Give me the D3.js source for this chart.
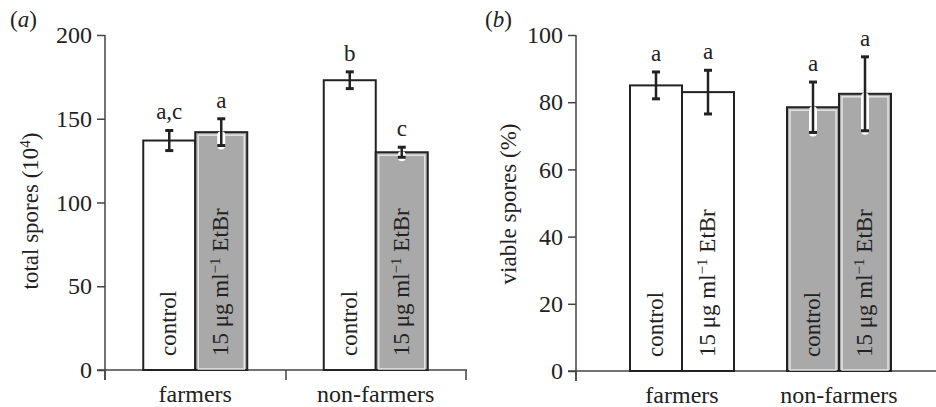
<!DOCTYPE html>
<html>
<head>
<meta charset="utf-8">
<script src="https://cdn.jsdelivr.net/npm/d3@7"></script>
<style>
  body { margin: 0; background: #fff; }
  svg text { font-family: "Liberation Serif", "Times New Roman", Times, serif; fill: #222; }
</style>
</head>
<body>
<svg width="936" height="407"></svg>
<script>
// data
const categories = ['farmers', 'non-farmers'];
const treatments = ['control', 'etbr'];

const totalMeans = [[137, 142], [173, 130]];
const totalErr = [[6, 8], [5, 3]];
const totalLetters = [['a,c', 'a'], ['b', 'c']];
const totalShaded = [[false, true], [false, true]];
const totalTicks = [0, 50, 100, 150, 200];

const viableMeans = [[85, 83], [78.5, 82.5]];
const viableErr = [[4, 6.5], [7.5, 11]];
const viableLetters = [['a', 'a'], ['a', 'a']];
const viableShaded = [[false, false], [true, true]];
const viableTicks = [0, 20, 40, 60, 80, 100];

let svg = d3.select('svg');
let barW = 52;
let fs = 23;
let serif = '"Liberation Serif", "Times New Roman", Times, serif';

function panel(opts) {
  let g = svg.append('g');
  let y = d3.scaleLinear().domain(opts.yDomain).range(opts.yRange);
  let x = opts.x;
  let xc = (c) => x(c) + x.bandwidth() / 2;
  let y0 = y(0);

  // y axis
  let yAxis = d3.axisLeft(y).tickValues(opts.ticks).tickSize(8).tickPadding(5).tickSizeOuter(0);
  let ya = g.append('g').attr('transform', `translate(${opts.axisX},0)`).call(yAxis)
    .attr('font-family', serif).attr('font-size', 24);
  ya.select('.domain').remove();
  ya.selectAll('line').attr('stroke', '#444').attr('stroke-width', 1.5);
  ya.selectAll('text').attr('fill', '#222');
  g.append('line')
    .attr('x1', opts.axisX).attr('x2', opts.axisX)
    .attr('y1', y(opts.yDomain[1])).attr('y2', y0 + 10)
    .attr('stroke', '#444').attr('stroke-width', 1.5);

  // x axis baseline and ticks
  g.append('line')
    .attr('x1', opts.axisX - 8).attr('x2', opts.xEnd)
    .attr('y1', y0).attr('y2', y0)
    .attr('stroke', '#444').attr('stroke-width', 1.5);
  g.selectAll('.xt').data(opts.xTicks).enter().append('line')
    .attr('x1', (d) => d).attr('x2', (d) => d)
    .attr('y1', y0).attr('y2', y0 + 10)
    .attr('stroke', '#444').attr('stroke-width', 1.5);
  g.selectAll('.xl').data(categories).enter().append('text')
    .attr('x', (d) => xc(d)).attr('y', y0 + 32)
    .attr('text-anchor', 'middle')
    .style('font-size', '24px')
    .text((d) => d);

  // bars
  let rows = [];
  categories.forEach((c, i) => {
    treatments.forEach((t, j) => {
      rows.push({
        cat: c, tr: t,
        v: opts.means[i][j], e: opts.err[i][j],
        letter: opts.letters[i][j], shaded: opts.shaded[i][j],
        x0: xc(c) + (j - 1) * barW,
      });
    });
  });

  let bars = g.selectAll('.bar').data(rows).enter().append('g');
  bars.append('rect')
    .attr('x', (d) => d.x0).attr('y', (d) => y(d.v))
    .attr('width', barW).attr('height', (d) => y0 - y(d.v))
    .attr('fill', (d) => (d.shaded ? '#a9a9a9' : '#fff'))
    .attr('stroke', '#222').attr('stroke-width', 2);
  bars.filter((d) => d.shaded).append('rect')
    .attr('x', (d) => d.x0 + 3).attr('y', (d) => y(d.v) + 3)
    .attr('width', barW - 6).attr('height', (d) => y0 - y(d.v) - 4)
    .attr('fill', 'none')
    .attr('stroke', '#e4e4e4').attr('stroke-width', 1.5);

  // error bars
  let cx = (d) => d.x0 + barW / 2;
  bars.filter((d) => d.shaded).append('line')
    .attr('x1', cx).attr('x2', cx)
    .attr('y1', (d) => y(d.v) + 3).attr('y2', (d) => y(d.v - d.e))
    .attr('stroke', '#fff').attr('stroke-width', 8).attr('stroke-linecap', 'round');
  bars.append('line')
    .attr('x1', cx).attr('x2', cx)
    .attr('y1', (d) => y(d.v + d.e)).attr('y2', (d) => y(d.v - d.e))
    .attr('stroke', '#222').attr('stroke-width', 2.5);
  ['plus', 'minus'].forEach((k) => {
    bars.append('line')
      .attr('x1', (d) => cx(d) - 4).attr('x2', (d) => cx(d) + 4)
      .attr('y1', (d) => y(k == 'plus' ? d.v + d.e : d.v - d.e))
      .attr('y2', (d) => y(k == 'plus' ? d.v + d.e : d.v - d.e))
      .attr('stroke', '#222').attr('stroke-width', 3);
  });

  // significance letters
  bars.append('text')
    .attr('x', cx).attr('y', (d) => y(d.v + d.e) - 11)
    .attr('text-anchor', 'middle')
    .style('font-size', fs + 'px')
    .text((d) => d.letter);

  // labels inside the bars
  let lab = bars.append('text')
    .attr('transform', (d) => `translate(${cx(d) + 7},${y0 - 14}) rotate(-90)`)
    .style('font-size', fs + 'px');
  lab.filter((d) => d.tr == 'control').text('control');
  let et = lab.filter((d) => d.tr == 'etbr');
  et.append('tspan').text('15 μg ml');
  et.append('tspan').attr('dy', -8).style('font-size', '15px').text('−1');
  et.append('tspan').attr('dy', 8).text(' EtBr');

  // y title
  let yt = g.append('text')
    .attr('transform', `translate(${opts.titleX},${opts.titleY}) rotate(-90)`)
    .attr('text-anchor', 'middle')
    .style('font-size', fs + 'px');
  opts.title(yt);

  // panel letter
  let pl = g.append('text').attr('x', opts.labelX).attr('y', 27).style('font-size', fs + 'px');
  pl.append('tspan').text('(');
  pl.append('tspan').style('font-style', 'italic').text(opts.panelLetter);
  pl.append('tspan').text(')');
}

panel({
  yDomain: [0, 200], yRange: [370, 35], ticks: totalTicks,
  x: d3.scaleBand().domain(categories).range([105, 466]),
  axisX: 105, xEnd: 467, xTicks: [105, 286, 466],
  means: totalMeans, err: totalErr, letters: totalLetters, shaded: totalShaded,
  titleX: 38, titleY: 211,
  title: (t) => {
    t.append('tspan').text('total spores (10');
    t.append('tspan').attr('dy', -8).style('font-size', '15px').text('4');
    t.append('tspan').attr('dy', 8).text(')');
  },
  labelX: 10, panelLetter: 'a',
});

panel({
  yDomain: [0, 100], yRange: [371, 35], ticks: viableTicks,
  x: d3.scalePoint().domain(categories).range([682, 839]),
  axisX: 576, xEnd: 936, xTicks: [576],
  means: viableMeans, err: viableErr, letters: viableLetters, shaded: viableShaded,
  titleX: 516, titleY: 204,
  title: (t) => t.text('viable spores (%)'),
  labelX: 485, panelLetter: 'b',
});
</script>
</body>
</html>
